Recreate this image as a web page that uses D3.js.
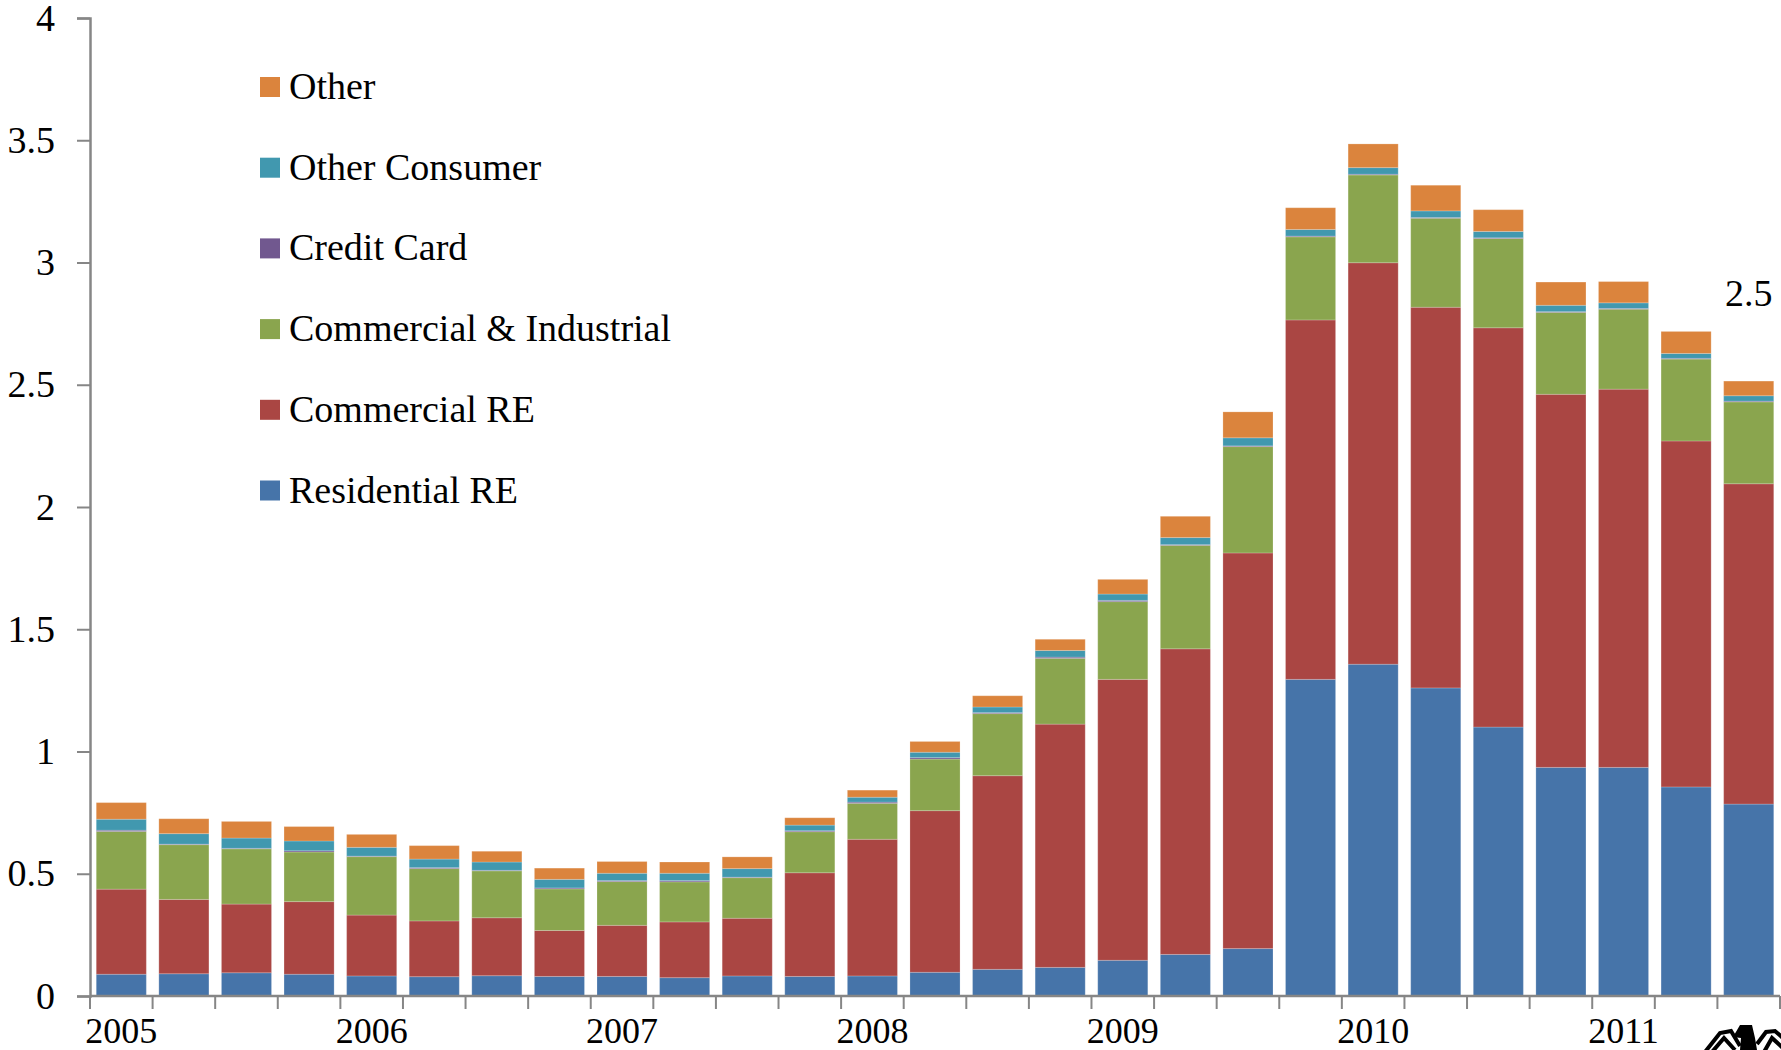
<!DOCTYPE html>
<html>
<head>
<meta charset="utf-8">
<script src="https://cdn.jsdelivr.net/npm/d3@7"></script>
<style>
  html, body { margin: 0; padding: 0; background: #fff; }
  svg { display: block; }
  text { font-family: "Liberation Serif", serif; fill: #000; }
</style>
</head>
<body>
<div id="chart"></div>
<script>
const quarters = d3.range(27)
const yearLabels = ["2005", "", "", "", "2006", "", "", "", "2007", "", "", "", "2008", "", "", "", "2009", "", "", "", "2010", "", "", "", "2011", "", ""]
const yTicks = [0, 0.5, 1, 1.5, 2, 2.5, 3, 3.5, 4]

const residential = [.089, .091, .095, .089, .082, .079, .083, .080, .080, .075, .082, .080, .082, .097, .109, .117, .146, .170, .194, 1.295, 1.357, 1.26, 1.10, .935, .935, .855, .785]
const commercialRE = [.348, .304, .281, .297, .249, .228, .237, .188, .209, .228, .236, .424, .559, .661, .792, .995, 1.149, 1.25, 1.618, 1.47, 1.642, 1.557, 1.633, 1.526, 1.547, 1.415, 1.31]
const commercialInd = [.236, .224, .226, .203, .239, .214, .192, .170, .179, .164, .166, .168, .147, .211, .254, .269, .318, .423, .435, .34, .359, .364, .365, .335, .327, .335, .335]
const creditCard = [.005, .002, .002, .005, .002, .004, .002, .004, .004, .005, .002, .004, .005, .006, .004, .005, .005, .003, .003, .003, .003, .003, .003, .003, .003, .003, .003]
const otherConsumer = [.045, .043, .042, .040, .036, .035, .034, .035, .030, .030, .035, .023, .020, .022, .023, .027, .026, .029, .033, .027, .027, .027, .026, .026, .023, .020, .022]
const other = [.068, .061, .068, .059, .053, .055, .044, .046, .048, .046, .048, .030, .029, .044, .046, .046, .060, .087, .106, .089, .097, .105, .089, .095, .087, .090, .060]

const seriesNames = ["Residential RE", "Commercial RE", "Commercial & Industrial", "Credit Card", "Other Consumer", "Other"]
const seriesValues = [residential, commercialRE, commercialInd, creditCard, otherConsumer, other]
const seriesColors = ["#4674a9", "#aa4643", "#8aa54e", "#71588f", "#4198af", "#db843d"]
const endLabel = "2.5"

const width = 1781, height = 1050
const margin = { top: 18, right: 1, bottom: 54, left: 90 }
const fontSize = 38
const yearFontSize = 36

const x = d3.scaleBand()
    .domain(quarters)
    .range([margin.left, width - margin.right])
    .paddingInner(0.2)
    .paddingOuter(0.1)

const y = d3.scaleLinear()
    .domain([0, 4])
    .range([height - margin.bottom, margin.top])

const rows = quarters.map(q => {
  const row = { q: q }
  seriesNames.forEach((s, i) => { row[s] = seriesValues[i][q] })
  return row
})
const stacked = d3.stack().keys(seriesNames)(rows)

const svg = d3.select("#chart").append("svg")
    .attr("width", width)
    .attr("height", height)

svg.append("g")
  .selectAll("g")
  .data(stacked)
  .join("g")
    .attr("fill", (d, i) => seriesColors[i])
  .selectAll("rect")
  .data(d => d)
  .join("rect")
    .attr("x", d => x(d.data.q))
    .attr("y", d => y(d[1]))
    .attr("width", x.bandwidth())
    .attr("height", d => y(d[0]) - y(d[1]))
    .attr("stroke", "#fff")
    .attr("stroke-opacity", 0.2)
    .attr("stroke-width", 1)

const axisColor = "#868686"

const yAxis = svg.append("g")
    .attr("transform", `translate(${margin.left},0)`)
    .call(d3.axisLeft(y).tickValues(yTicks).tickFormat(d3.format("~g")).tickSizeOuter(0).tickSize(13).tickPadding(22))
yAxis.selectAll("line").attr("stroke", axisColor).attr("stroke-width", 2)
yAxis.select(".domain").attr("stroke", axisColor).attr("stroke-width", 2.5)
yAxis.selectAll("text").style("font-size", fontSize + "px").style("font-family", '"Liberation Serif", serif')

// ticks sit between the bars, labels under the first quarter of each year
const xAxis = svg.append("g")
    .attr("transform", `translate(0,${y(0)})`)
xAxis.append("line")
    .attr("x1", margin.left)
    .attr("x2", width - margin.right)
    .attr("stroke", axisColor)
    .attr("stroke-width", 2.5)
xAxis.selectAll(".tick")
  .data(d3.range(quarters.length + 1))
  .join("line")
    .attr("class", "tick")
    .attr("x1", i => margin.left + i * x.step())
    .attr("x2", i => margin.left + i * x.step())
    .attr("y2", 13)
    .attr("stroke", axisColor)
    .attr("stroke-width", 2)
xAxis.selectAll("text")
  .data(quarters.filter(q => yearLabels[q] !== ""))
  .join("text")
    .attr("x", q => x(q) + x.bandwidth() / 2)
    .attr("y", 47)
    .attr("text-anchor", "middle")
    .style("font-size", yearFontSize + "px")
    .text(q => yearLabels[q])

const legend = svg.append("g")
const legendRows = legend.selectAll("g")
  .data(seriesNames.slice().reverse())
  .join("g")
    .attr("transform", (d, i) => `translate(260,${87 + i * 80.7})`)
legendRows.append("rect")
    .attr("y", -10)
    .attr("width", 20)
    .attr("height", 20)
    .attr("fill", d => seriesColors[seriesNames.indexOf(d)])
legendRows.append("text")
    .attr("x", 29)
    .attr("y", 12)
    .style("font-size", fontSize + "px")
    .text(d => d)

const last = quarters[quarters.length - 1]
svg.append("text")
    .attr("x", x(last) + x.bandwidth() / 2)
    .attr("y", y(d3.sum(seriesValues, s => s[last])) - 75)
    .attr("text-anchor", "middle")
    .style("font-size", fontSize + "px")
    .text(endLabel)

// top of the seal, cut off by the page edge in the corner
const seal = svg.append("g")
seal.append("path")
    .attr("d", "M1740 1025 L1752 1025 L1755 1038 L1757 1050 L1740 1050 L1741 1038 L1733 1037 Z")
    .attr("fill", "#000")
seal.selectAll(".wing")
  .data(["M1705 1052 L1720 1033 L1731 1031 L1740 1046", "M1712 1052 L1724 1038 L1735 1050", "M1757 1044 L1766 1032 L1775 1031 L1783 1038", "M1764 1052 L1772 1038 L1783 1048"])
  .join("path")
    .attr("class", "wing")
    .attr("d", d => d)
    .attr("fill", "none")
    .attr("stroke", "#000")
    .attr("stroke-width", 4)
</script>
</body>
</html>
